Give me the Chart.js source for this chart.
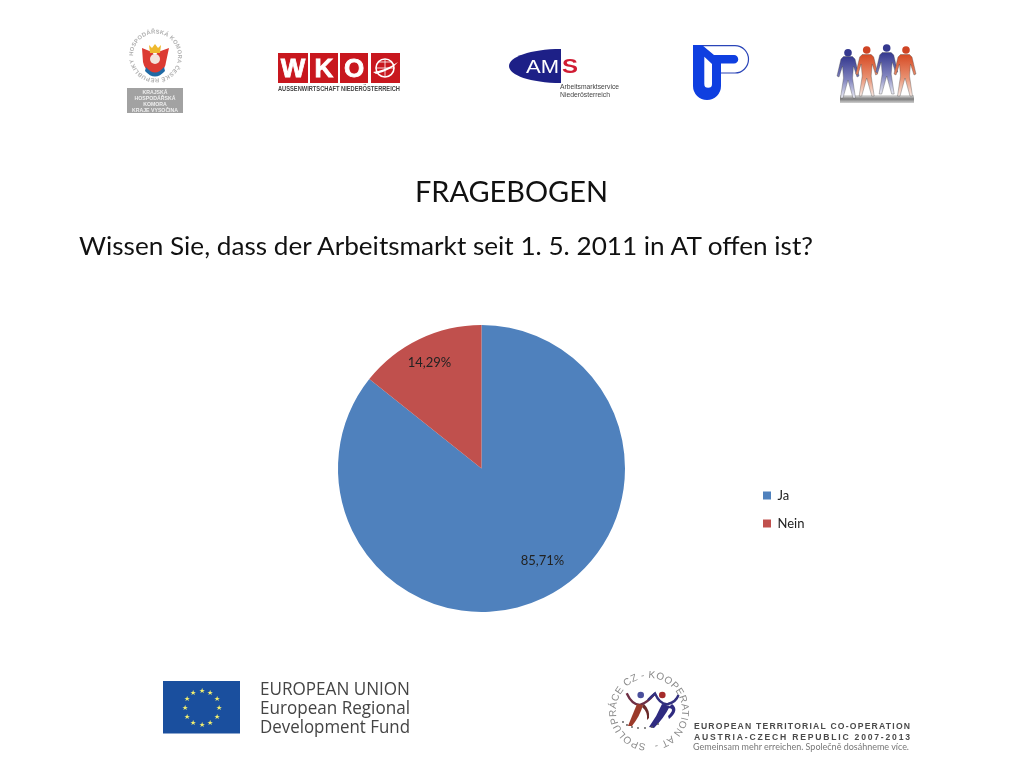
<!DOCTYPE html>
<html><head><meta charset="utf-8">
<script src="https://cdn.jsdelivr.net/npm/chart.js@4"></script>
<style>
html,body{margin:0;padding:0;background:#fff;width:1024px;height:768px;overflow:hidden}
#wrap{position:absolute;left:0;top:0;width:1024px;height:768px}
canvas{position:absolute;left:0;top:0}
svg{position:absolute;left:0;top:0}
text{font-family:"Liberation Sans",sans-serif}
.cal{font-family:Lato,sans-serif}
.eu{font-family:"Open Sans",sans-serif}
</style></head><body>
<div id="wrap"><canvas id="c" width="1024" height="768"></canvas>
<svg width="1024" height="768" viewBox="0 0 1024 768">
<defs>
<linearGradient id="gb" x1="0" y1="0" x2="0" y2="1"><stop offset="0" stop-color="#35398f"/><stop offset=".55" stop-color="#7f82bd"/><stop offset="1" stop-color="#ecedf5"/></linearGradient>
<linearGradient id="go" x1="0" y1="0" x2="0" y2="1"><stop offset="0" stop-color="#d64a24"/><stop offset=".55" stop-color="#e88f6f"/><stop offset="1" stop-color="#f8ebe5"/></linearGradient>
<linearGradient id="gs" x1="0" y1="0" x2="0" y2="1"><stop offset="0" stop-color="#e4e4e4"/><stop offset=".5" stop-color="#7d7d7d"/><stop offset="1" stop-color="#d0d0d0"/></linearGradient>
<path id="krc" d="M133 56 a22.500 22.500 0 1 1 45 0 a22.500 22.500 0 1 1 -45 0" fill="none"/>
<path id="spc" d="M649 744 a33 33 0 1 1 0 -66 a33 33 0 1 1 0 66" fill="none"/>
<path id="fig" d="M-4.500 4.500 H4.500 L7 7 L11 24 L9 25 L5.500 14 L4.500 26 L7.500 46 H5 L0 28 L-5 46 H-7.500 L-4.500 26 L-5.500 14 L-9 25 L-11 24 L-7 7 Z" stroke="#444" stroke-width=".35"/>
</defs>

<text class="cal" x="415" y="202" font-size="28" textLength="193" lengthAdjust="spacingAndGlyphs" fill="#111">FRAGEBOGEN</text>
<text class="cal" x="79" y="255" font-size="25" textLength="734" lengthAdjust="spacingAndGlyphs" fill="#111">Wissen Sie, dass der Arbeitsmarkt seit 1. 5. 2011 in AT offen ist?</text>

<!-- Krajska komora -->
<text font-size="5.800" fill="#b0b0b0" font-weight="bold" letter-spacing=".2"><textPath href="#krc">HOSPODÁŘSKÁ KOMORA  ČESKÉ REPUBLIKY</textPath></text>
<path d="M142 48 L152 52 L155 56 L158 52 L169 48 L166 62 C165 72 158 72 155 75 C152 72 145 72 143 62Z" fill="#dc3a32"/>
<path d="M149 45 L152 48 L155 44 L158 48 L161 45 L160 53 H150Z" fill="#eeb92e"/>
<circle cx="155" cy="59" r="5" fill="#f3e4dc"/>
<path d="M146 67 Q155 78 164 67 L165 71 Q155 82 145 71Z" fill="#1f6aa5"/>
<rect x="127" y="88" width="56" height="25" fill="#a2a2a2"/>
<g font-size="5.200" font-weight="bold" fill="#eee" text-anchor="middle">
<text x="155" y="94">KRAJSKÁ</text><text x="155" y="100">HOSPODÁŘSKÁ</text><text x="155" y="106">KOMORA</text><text x="155" y="112">KRAJE VYSOČINA</text></g>

<!-- WKO -->
<g fill="#c8171e"><rect x="278" y="53" width="30" height="30"/><rect x="310" y="53" width="28" height="30"/><rect x="340" y="53" width="28" height="30"/><rect x="371" y="53" width="29" height="30"/></g>
<g fill="#fff" font-weight="bold" font-size="26" text-anchor="middle" stroke="#fff" stroke-width=".8"><text x="293" y="77">W</text><text x="324" y="77">K</text><text x="354" y="77">O</text></g>
<circle cx="385" cy="68" r="9" fill="none" stroke="#fff" stroke-width="1.600"/>
<path d="M385 59 V77 M376 68 H394 M379 62 H391" stroke="#fff" stroke-width=".8" fill="none"/>
<path d="M373 72 Q386 70 398 62 Q392 70 376 74Z" fill="#fff"/>
<text x="278" y="91" font-size="6.400" font-weight="bold" fill="#444" textLength="122" lengthAdjust="spacingAndGlyphs">AUSSENWIRTSCHAFT NIEDERÖSTERREICH</text>

<!-- AMS -->
<path d="M561 49 C530 49 509 57 509 66 C509 75 530 83 561 83Z" fill="#1d2087"/>
<text x="526" y="73" font-size="19" fill="#fff" textLength="33" lengthAdjust="spacingAndGlyphs">AM</text>
<text x="562" y="73" font-size="20" font-weight="bold" fill="#d01c33" textLength="16" lengthAdjust="spacingAndGlyphs">S</text>
<text x="560" y="89" font-size="7" fill="#444" textLength="59" lengthAdjust="spacingAndGlyphs">Arbeitsmarktservice</text>
<text x="560" y="97" font-size="7" fill="#444" textLength="50" lengthAdjust="spacingAndGlyphs">Niederösterreich</text>

<!-- TP -->
<path d="M693 45.600 H735 A13.500 13.700 0 0 1 735 73 H721" fill="none" stroke="#2a45b8" stroke-width="1.200"/>
<path d="M693 45 H702 L714 55 H734 A4.250 4.250 0 0 1 734 63.500 H721 V86 A14 14 0 0 1 693 86Z" fill="#0f3fe0"/>
<path d="M704.300 56.700 L712 64 V84 A3.850 3.850 0 0 1 704.300 84Z" fill="#fff"/>

<!-- People -->
<rect x="840" y="95" width="74" height="8" fill="url(#gs)"/>
<g fill="#35398f"><circle cx="848" cy="52.700" r="3.800"/><circle cx="886.700" cy="48" r="3.800"/></g>
<g fill="#cf4424"><circle cx="866.700" cy="50" r="3.800"/><circle cx="906" cy="50" r="3.800"/></g>
<use href="#fig" x="848" y="52" fill="url(#gb)"/>
<use href="#fig" x="866.700" y="50" fill="url(#go)"/>
<use href="#fig" x="886.700" y="48" fill="url(#gb)"/>
<use href="#fig" x="905" y="50" fill="url(#go)"/>

<!-- EU -->
<rect x="163" y="681" width="77" height="52.500" fill="#1a4f9e"/>
<g fill="#f2ee6e" font-size="7" text-anchor="middle">
<text x="201.500" y="693">★</text><text x="210" y="695">★</text><text x="216.500" y="701">★</text><text x="218.500" y="710">★</text><text x="216.500" y="719">★</text><text x="210" y="725">★</text><text x="201.500" y="727">★</text><text x="193" y="725">★</text><text x="186.500" y="719">★</text><text x="184.500" y="710">★</text><text x="186.500" y="701">★</text><text x="193" y="695">★</text></g>
<g fill="#444" font-size="18">
<text class="eu" x="260" y="695" textLength="150" lengthAdjust="spacingAndGlyphs">EUROPEAN UNION</text>
<text class="eu" x="260" y="714" textLength="150" lengthAdjust="spacingAndGlyphs">European Regional</text>
<text class="eu" x="260" y="733" textLength="150" lengthAdjust="spacingAndGlyphs">Development Fund</text></g>

<!-- Spoluprace -->
<text font-size="10" fill="#8a8a8a" letter-spacing=".4"><textPath href="#spc" startOffset="3">SPOLUPRÁCE CZ - KOOPERATION AT -</textPath></text>
<circle cx="640.700" cy="695" r="3.300" fill="#4a4f9c"/><circle cx="662.300" cy="695" r="3.300" fill="#a52b2b"/>
<path d="M626.700 693.300 Q632 705 640 705 Q647 703 655 693.500" fill="none" stroke="#6f2f45" stroke-width="2.400"/>
<path d="M648 700 Q651 697 655 693.500 Q660 705 668 704 Q676 702 678.500 695" fill="none" stroke="#33307f" stroke-width="2.400"/>
<path d="M637 704 Q632 716 628 726 L632 726 Q640 716 643 705Z" fill="#9b3a2a"/>
<path d="M642 707 Q648 712 647 720 L649 718 Q650 710 644 704Z" fill="#6b2a2a"/>
<path d="M662 704 Q657 716 649 727 L654 728 Q664 718 670 706Z" fill="#2f2b80"/>
<path d="M668 708 Q676 708 668 716 L669 719 Q680 710 672 704Z" fill="#2f2b80"/>
<g fill="#555"><circle cx="623" cy="722" r=".9"/><circle cx="627" cy="725" r=".9"/><circle cx="632" cy="727" r=".9"/><circle cx="638" cy="728" r=".9"/><circle cx="645" cy="728" r=".9"/><circle cx="652" cy="727" r=".9"/><circle cx="658" cy="724" r=".9"/></g>
<g font-weight="bold" fill="#4a4a4a" font-size="8.600">
<text x="694" y="729" textLength="216" lengthAdjust="spacing">EUROPEAN TERRITORIAL CO-OPERATION</text>
<text x="694" y="740" textLength="216" lengthAdjust="spacing">AUSTRIA-CZECH REPUBLIC 2007-2013</text></g>
<text class="cal" x="693" y="750" font-size="10" fill="#777" textLength="216" lengthAdjust="spacingAndGlyphs">Gemeinsam mehr erreichen. Společně dosáhneme více.</text>
</svg></div>
<script>
const categories = ["Ja", "Nein"];
const shares = [85.71, 14.29];
const sliceColors = ["#4f81bd", "#c0504d"];
const shareLabels = ["85,71%", "14,29%"];

const labelFont = '13px Lato, sans-serif';
const sliceLabels = {
  id: 'sliceLabels',
  afterDatasetsDraw(chart) {
    const ctx = chart.ctx, arcs = chart.getDatasetMeta(0).data;
    const nudges = [[9, -16], [0, 2]];
    ctx.save();
    ctx.font = labelFont;
    ctx.fillStyle = '#222';
    ctx.textAlign = 'center';
    ctx.textBaseline = 'middle';
    arcs.forEach((arc, i) => {
      const p = arc.getProps(['x', 'y', 'startAngle', 'endAngle', 'outerRadius'], true);
      const mid = (p.startAngle + p.endAngle) / 2;
      const r = p.outerRadius * 0.835;
      ctx.fillText(shareLabels[i], p.x + Math.cos(mid) * r + nudges[i][0], p.y + Math.sin(mid) * r + nudges[i][1]);
    });
    ctx.restore();
  }
};
const legendPlace = {
  id: 'legendPlace',
  afterLayout(chart) {
    const l = chart.legend, dx = 748 - l.left, dy = 474 - l.top;
    l.left += dx; l.right += dx; l.top += dy; l.bottom += dy;
    l.legendHitBoxes.forEach(h => { h.left += dx; h.top += dy; });
  }
};
new Chart(document.getElementById('c'), {
  type: 'pie',
  plugins: [sliceLabels, legendPlace],
  data: { labels: categories, datasets: [{ data: shares, backgroundColor: sliceColors, borderWidth: 0 }] },
  options: {
    responsive: false,
    animation: false,
    layout: { padding: { left: 338, top: 325, right: 399, bottom: 156 } },
    plugins: {
      tooltip: { enabled: false },
      legend: {
        position: 'chartArea',
        align: 'start',
        labels: { boxWidth: 8, boxHeight: 8, padding: 15, color: '#222', font: { family: 'Lato, sans-serif', size: 13 } }
      }
    }
  }
});
</script>
</body></html>
